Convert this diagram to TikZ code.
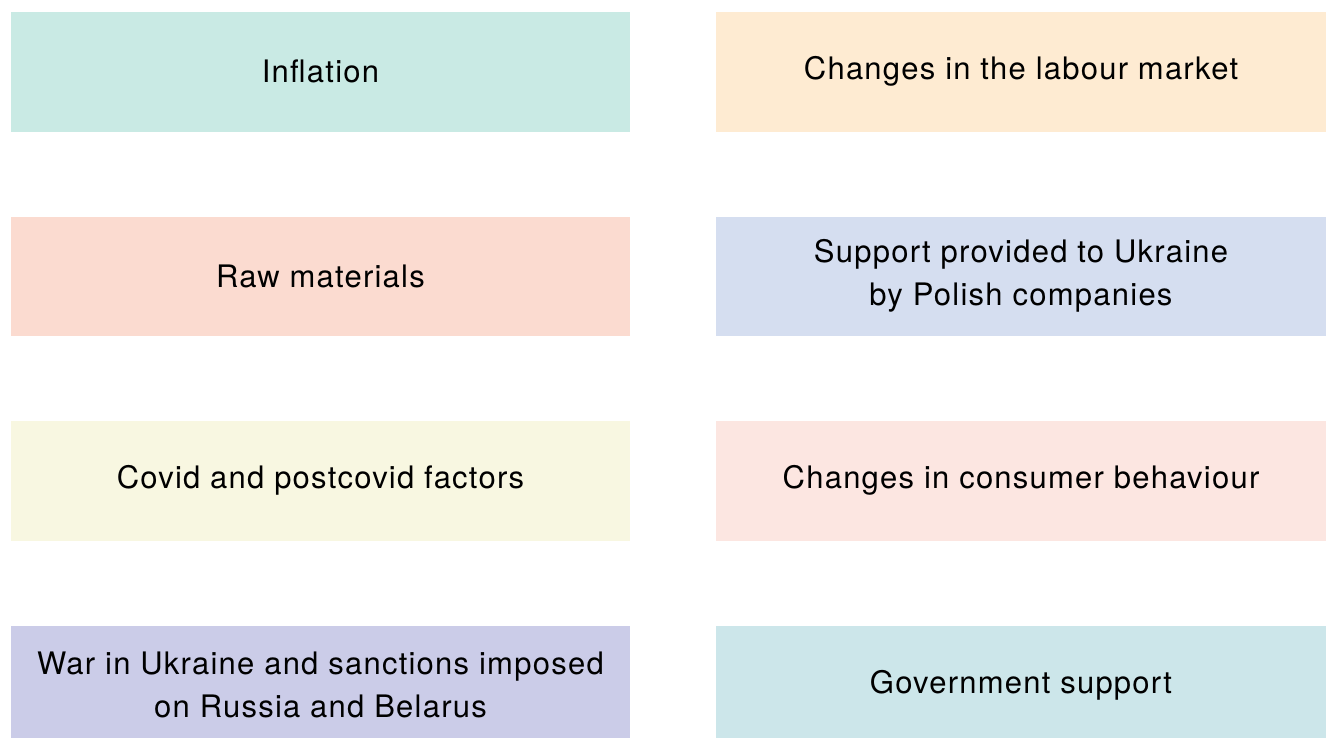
\documentclass[tikz,border=0pt]{standalone}
\usepackage{fontspec}
\setmainfont[LetterSpace=4]{TeX Gyre Heros}
\usetikzlibrary{positioning}
\definecolor{inflcol}{HTML}{C9EAE4}
\definecolor{labourcol}{HTML}{FEEBD2}
\definecolor{rawcol}{HTML}{FBDBD0}
\definecolor{supportcol}{HTML}{D5DEF0}
\definecolor{covidcol}{HTML}{F8F7E1}
\definecolor{consumercol}{HTML}{FCE6E1}
\definecolor{warcol}{HTML}{CBCCE8}
\definecolor{govtcol}{HTML}{CCE6EA}
\tikzset{
    factor/.style={
            minimum height=119.5pt, inner sep=0pt, align=center,
            font=\fontsize{31}{43}\selectfont
        },
    leftfactor/.style={factor, minimum width=619pt},
    rightfactor/.style={factor, minimum width=610pt},
}

\begin{document}
\begin{tikzpicture}[x=1pt, y=-1pt]
        \useasboundingbox (0, 0) rectangle (1327, 737);
        %left column
        \node[leftfactor, fill=inflcol] (infl) at (320.5, 71.75) {Inflation};
        \node[leftfactor, fill=rawcol] (raw) at (320.5, 276.25) {Raw materials};
        \node[leftfactor, fill=covidcol] (covid) at (320.5, 480.75) {Covid and postcovid factors};
        \node[leftfactor, fill=warcol] (war) at (320.5, 685.25) {War in Ukraine and sanctions imposed\\on Russia and Belarus};
        %right column
        \node[rightfactor, fill=labourcol] (labour) at (1021, 71.75) {Changes in the labour market};
        \node[rightfactor, fill=supportcol] (support) at (1021, 276.25) {Support provided to Ukraine\\by Polish companies};
        \node[rightfactor, fill=consumercol] (consumer) at (1021, 480.75) {Changes in consumer behaviour};
        \node[rightfactor, fill=govtcol] (govt) at (1021, 685.25) {Government support};
    \end{tikzpicture}
\end{document}
